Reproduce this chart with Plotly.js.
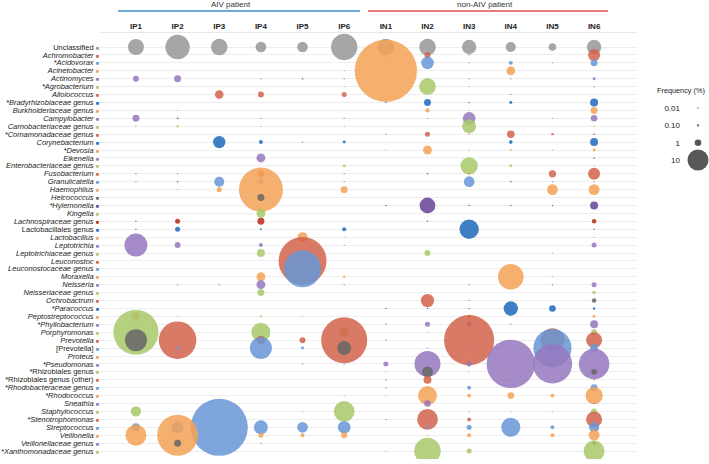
<!DOCTYPE html>
<html><head><meta charset="utf-8">
<script src="https://cdn.plot.ly/plotly-3.0.1.min.js"></script>
<style>html,body{margin:0;padding:0;background:#fff}#chart{width:709px;height:464px}</style>
</head><body><div id="chart"></div>
<script>
// ---------- DATA ----------
const samples = ['IP1','IP2','IP3','IP4','IP5','IP6','IN1','IN2','IN3','IN4','IN5','IN6'];
const groupLabels = ['AIV patient','non-AIV patient'];
const genera = ['Unclassified','Achromobacter','*Acidovorax','Acinetobacter','Actinomyces','*Agrobacterium','Alloiococcus','*Bradyrhizobiaceae genus','Burkholderiaceae genus','Campylobacter',
 'Carnobacteriaceae genus','*Comamonadaceae genus','Corynebacterium','*Devosia','Eikenella','Enterobacteriaceae genus','Fusobacterium','Granulicatella','Haemophilus','Helcococcus',
 '*Hylemonella','Kingella','Lachnospiraceae genus','Lactobacillales genus','Lactobacillus','Leptotrichia','Leptotrichiaceae genus','Leuconostoc','Leuconostocaceae genus','Moraxella',
 'Neisseria','Neisseriaceae genus','Ochrobactrum','*Paracoccus','Peptostreptococcus','*Phyllobacterium','Porphyromonas','Prevotella','[Prevotella]','Proteus',
 '*Pseudomonas','*Rhizobiales genus','*Rhizobiales genus (other)','*Rhodobacteraceae genus','*Rhodococcus','Sneathia','Staphylococcus','*Stenotrophomonas','Streptococcus','Veillonella',
 'Veillonellaceae genus','*Xanthomonadaceae genus'];

// frequency (%) per genus, one array per sample (order = genera)
const IP1 = [5.8,0,0,0,0.8,0,0,0,0,1.1,
 0.02,0,0,0,0,0,0.05,0.02,0,0,
 0,0,0.03,0.02,0,12,0,0,0,0,
 0,0,0,0,1.45,0,46,11,0,0,
 0,0,0,0,0,0,2.4,0,1.45,10,
 0,0];
const IP2 = [13.5,0,0,0,1.1,0,0,0,0.02,0.1,
 0.13,0,0,0,0,0,0.02,0.1,0.05,0,
 0,0,0.57,0.57,0,0.8,0,0,0,0,
 0.02,0,0,0,0.01,0,0,32,0.2,0,
 0,0,0,0,0,0,0,0,3.3,38,
 1.1,0];
const IP3 = [6.3,0,0,0,0,0,1.7,0,0,0,
 0,0,3.5,0,0,0,0,2.3,0.57,0,
 0,0,0,0,0,0,0,0,0,0,
 0.01,0,0,0,0,0,0,0,0,0,
 0,0,0,0,0,0,0.02,0,74,0,
 0,0];
const IP4 = [2.6,0,0,0,0.01,0,0.8,0,0,0.05,
 0.05,0,0.36,0,1.8,0,1.1,0.57,44,1.1,
 0,1.8,1.1,0.08,0,0.36,1.45,0,0,1.8,
 1.8,1.1,0,0,0.1,0,8.2,1.8,11,0,
 0,0,0,0,0,0,0,0,4.4,0.57,
 0.01,0];
const IP5 = [2.6,0,0,0,0.08,0,0,0,0,0,
 0,0,0.01,0,0,0,0,0,0,0,
 0,0,0,0,2.3,0,0,52,31,0,
 0,0,0,0,0.01,0,0,0.8,0.2,0,
 0.01,0,0,0,0,0,0.01,0,2.6,0.36,
 0,0];
const IP6 = [15.7,0,0,0.01,0.01,0.01,0.57,0,0,0.05,
 0.05,0,0.2,0,0,0.2,0.02,0.05,1.1,0,
 0,0,0,0.36,0.02,0.01,0,0,0,0.13,
 0.05,0,0,0,0,0,1.8,48,4.4,0,
 0.02,0,0,0,0.01,0,9.7,0,3.6,0.8,
 0,0];
const IN1 = [6.3,0,0.02,88,0,0.02,0,0.02,0,0,
 0,0.01,0,0.01,0,0,0,0,0,0,
 0.02,0,0,0,0,0,0,0,0,0,
 0,0,0,0.02,0,0.02,0,0.02,0,0,
 0.57,0.01,0.01,0.02,0.03,0,0,0.01,0,0,
 0,0.03];
const IN2 = [6.3,0.8,3.6,0,0.03,6.3,0,1.1,0.4,0.01,
 0,0.57,0,1.8,0,0,0.08,0,0,0,
 5.6,0,0.01,0,0,0,0.8,0,0,0,
 0,0,4,0.01,0,0.57,0.01,0,0.01,0,
 15.3,2.7,1.45,0.01,8.2,1.0,0,9.7,0.2,0.01,
 0,16];
const IN3 = [4.7,0.02,0.05,0,0.01,0.01,0,0.02,0.01,3.6,
 4.4,0.01,0,0.01,0,6.8,0.02,2.6,0,0,
 0.05,0,0,8.5,0,0,0,0,0,0,
 0.02,0,0.01,0.02,0.3,0.57,0,57,0.02,0.02,
 0.57,0.02,0,0.36,0.36,0,0.01,0.36,0.57,0.36,
 0,0.57];
const IN4 = [2.3,0,0.36,1.8,0.01,0,0.05,0.2,0,0,
 0,1.3,0.3,0.1,0,0.2,0,0.1,0,0,
 0.01,0,0,0,0,0,0,0,0,15,
 0,0,0,4.7,0,0.01,0,0,0,0,
 53,0.01,0.01,0,1.0,0,0.01,0,8.2,0,
 0,0];
const IN5 = [1.3,0,0.02,0,0,0,0,0,0,0.01,
 0,0.13,0,0.01,0,0,1.2,0.01,2.6,0,
 0.01,0,0,0,0,0,0.02,0,0,0.02,
 0.02,0,0,1.0,0,0,0,13,33,0,
 35,0,0,0,0.36,0,0.01,0,0.36,0.36,
 0,0];
const IN6 = [4.7,3.3,1.1,0,0.2,0.08,0,1.45,1.1,0.95,
 0.02,0.08,1.45,0.2,0.08,0.01,3.3,0.02,2.7,0,
 1.45,0,0.46,0.03,0.01,0.57,0,0,0,0,
 0.57,0.28,0.46,0.13,0.2,1.45,0.8,5.8,1.45,0,
 21,0.8,0.02,1.1,6.8,0.01,0.8,5.8,2.3,2.7,
 0.36,10];
const freq = [IP1,IP2,IP3,IP4,IP5,IP6,IN1,IN2,IN3,IN4,IN5,IN6];

const legendValues = [0.01, 0.1, 1, 10];
const legendLabels = ['0.01','0.10','1','10'];

// ---------- STYLE ----------
const C = {G:'#969696',Gd:'#666666',R:'#d1634b',Rd:'#b72918',B:'#6996d6',Bd:'#1d69bc',O:'#f3a257',P:'#9577be',Pd:'#674299',Gr:'#a8c869'};
const rowColorKeys = ['G','R','B','O','P','Gr','R','Bd','O','P',
 'Gr','R','Bd','O','P','Gr','R','B','O','Gd',
 'Pd','Gr','Rd','Bd','O','P','Gr','R','B','O',
 'P','Gr','R','Bd','O','P','Gr','R','B','O',
 'P','Gr','R','B','O','P','Gr','R','B','O',
 'P','Gr'];
const uprightLabels = ['Unclassified','Lactobacillales genus','[Prevotella]','*Rhizobiales genus','*Rhizobiales genus (other)'];
const grayPoints = [['IP1','Prevotella'],['IP2','Veillonellaceae genus'],['IP6','[Prevotella]'],['IN2','*Rhizobiales genus'],['IN6','Ochrobactrum'],['IN6','*Rhizobiales genus'],['IN6','Veillonellaceae genus']];
const FONT = '"Liberation Sans",Arial,sans-serif';
const SIZEREF = 2*10/(21*21); // 10% -> 21 px diameter

// ---------- BUILD ----------
const xs=[], ys=[], ss=[], cs=[];
genera.forEach((g,gi)=>{
  samples.forEach((s,si)=>{
    const v = freq[si][gi];
    if(v>0){
      xs.push(s); ys.push(g); ss.push(v);
      const gray = grayPoints.some(p=>p[0]===s && p[1]===g);
      cs.push(gray ? C.Gd : C[rowColorKeys[gi]]);
    }
  });
});
const ticktext = genera.map((g,gi)=>{
  const t = uprightLabels.includes(g) ? g : '<i>'+g+'</i>';
  return t+' <span style="color:'+C[rowColorKeys[gi]]+';font-size:5.5px">■</span>';
});

const L=100, R=0, T=33, B=5, W=709, H=464;
const pw = W-L-R, ph = H-T-B;
const px = v => (v-L)/pw;
const py = v => (H-B-v)/ph;
const mainRight = px(637);

const traces = [{
  type:'scatter', mode:'markers', x:xs, y:ys, xaxis:'x', yaxis:'y',
  marker:{size:ss, sizemode:'area', sizeref:SIZEREF, sizemin:0.7, color:cs, opacity:0.85, line:{width:0}},
  hoverinfo:'skip'
},{
  type:'scatter', mode:'markers', x:legendLabels.map(()=> 'size'), y:legendLabels, xaxis:'x2', yaxis:'y2',
  marker:{size:legendValues, sizemode:'area', sizeref:SIZEREF, sizemin:0.7, color:'#111', line:{width:0}},
  hoverinfo:'skip'
}];

const layout = {
  width:W, height:H, margin:{l:L,r:R,t:T,b:B}, showlegend:false, hovermode:false,
  paper_bgcolor:'#fff', plot_bgcolor:'#fff',
  font:{family:FONT, size:8, color:'#222'},
  xaxis:{domain:[0,mainRight], type:'category', categoryarray:samples, side:'top',
    range:[-0.863,12.03], tickmode:'array', tickvals:samples, ticktext:samples.map(s=>'<b>'+s+'</b>'),
    showgrid:false, zeroline:false, showline:true, linecolor:'#e8e8e8', linewidth:1, ticks:'',
    tickfont:{family:FONT,size:8,color:'#222'}, fixedrange:true},
  yaxis:{domain:[0,1], type:'category', categoryarray:genera, range:[52.0,-1.77],
    tickmode:'array', tickvals:genera, ticktext:ticktext, showgrid:true, gridcolor:'#eeeeee', gridwidth:1,
    zeroline:false, showline:false, ticks:'', tickfont:{family:FONT,size:7.5,color:'#1a1a1a'}, fixedrange:true},
  xaxis2:{domain:[px(681),1], anchor:'y2', type:'category', range:[-0.607,0.393], visible:false, fixedrange:true},
  yaxis2:{domain:[0,1], anchor:'x2', type:'category', categoryarray:legendLabels, range:[20.25,-4.33],
    showgrid:false, zeroline:false, showline:false, ticks:'', showticklabels:true,
    tickfont:{family:FONT,size:8,color:'#222'}, fixedrange:true},
  shapes:[
    {type:'line', xref:'paper', yref:'paper', x0:px(118), x1:px(360), y0:py(11), y1:py(11), line:{color:'#3d8fcf', width:1.5}},
    {type:'line', xref:'paper', yref:'paper', x0:px(368), x1:px(608), y0:py(11), y1:py(11), line:{color:'#d9534f', width:1.5}}
  ],
  annotations:[
    {xref:'paper', yref:'paper', x:px(231), y:py(5), text:groupLabels[0], showarrow:false, xanchor:'center', yanchor:'middle', font:{family:FONT,size:8,color:'#333'}},
    {xref:'paper', yref:'paper', x:px(485), y:py(5), text:groupLabels[1], showarrow:false, xanchor:'center', yanchor:'middle', font:{family:FONT,size:8,color:'#333'}},
    {xref:'paper', yref:'paper', x:px(655), y:py(90), text:'Frequency (%)', showarrow:false, xanchor:'left', yanchor:'middle', font:{family:FONT,size:7.3,color:'#222'}}
  ]
};
Plotly.newPlot('chart', traces, layout, {staticPlot:true, displayModeBar:false});
</script></body></html>
